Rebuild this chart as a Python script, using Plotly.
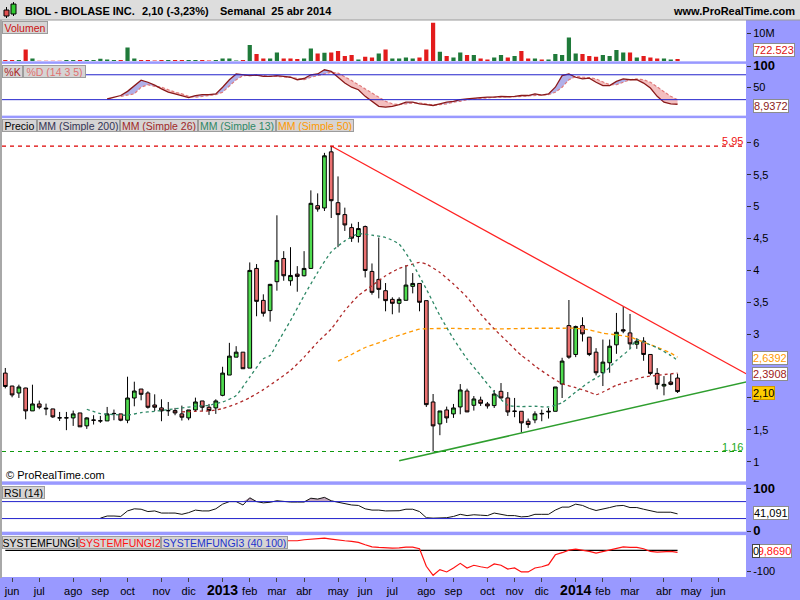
import plotly.graph_objects as go
from plotly.subplots import make_subplots

# ---------------- data (weekly bars, index 0 = week of 28 May 2012) ----------------
week_idx = list(range(100))
opens = [2.39, 2.187, 2.078, 2.156, 1.797, 1.906, 1.84, 1.828, 1.69, 1.69,
         1.687, 1.765, 1.562, 1.655, 1.643, 1.64, 1.758, 1.75, 1.651, 1.999,
         2.14, 2.078, 1.89, 1.844, 1.803, 1.802, 1.75, 1.687, 1.812, 1.953,
         1.854, 1.844, 2.041, 2.359, 2.64, 2.718, 2.468, 4.031, 3.53, 3.37,
         3.823, 4.187, 3.838, 3.942, 3.916, 4.031, 5.015, 4.979, 5.859, 5.062,
         4.875, 4.671, 4.531, 4.687, 3.984, 3.859, 3.682, 3.546, 3.484, 3.531,
         3.75, 3.796, 3.526, 1.937, 1.593, 1.812, 1.75, 1.859, 2.109, 1.885,
         1.968, 1.906, 1.88, 2.104, 2.0, 1.795, 1.791, 1.635, 1.656, 1.758,
         1.78, 1.791, 2.218, 3.135, 2.682, 3.135, 2.953, 2.718, 2.395, 2.552,
         2.833, 3.07, 3.02, 2.843, 2.89, 2.682, 2.385, 2.187, 2.25, 2.312]
highs = [2.47, 2.19, 2.208, 2.16, 2.208, 1.958, 1.911, 1.83, 1.781, 1.781,
         1.802, 1.765, 1.698, 1.729, 1.719, 1.859, 1.818, 1.75, 2.333, 2.255,
         2.14, 2.104, 2.057, 1.979, 1.937, 1.844, 1.88, 1.812, 2.005, 1.953,
         1.906, 1.979, 2.489, 2.864, 2.812, 2.718, 4.125, 4.099, 3.625, 3.79,
         4.864, 4.302, 4.364, 4.067, 4.302, 5.255, 5.208, 5.843, 5.95, 5.474,
         4.984, 4.734, 4.76, 4.703, 4.109, 4.515, 3.802, 3.578, 3.578, 4.083,
         3.958, 3.796, 3.526, 2.062, 1.796, 1.864, 1.906, 2.218, 2.145, 2.03,
         2.02, 1.937, 2.125, 2.234, 2.093, 2.0, 1.791, 1.677, 1.791, 1.817,
         1.843, 2.172, 2.63, 3.536, 3.135, 3.265, 2.953, 2.781, 2.916, 2.916,
         3.333, 3.437, 3.317, 2.937, 2.953, 2.682, 2.468, 2.343, 2.38, 2.38]
lows = [2.15, 2.01, 2.0, 1.666, 1.797, 1.823, 1.729, 1.687, 1.64, 1.495,
        1.562, 1.547, 1.515, 1.583, 1.609, 1.64, 1.651, 1.635, 1.604, 1.869,
        1.963, 1.833, 1.797, 1.635, 1.718, 1.729, 1.646, 1.651, 1.792, 1.792,
        1.734, 1.75, 2.026, 2.359, 2.64, 2.458, 2.468, 3.281, 3.276, 3.197,
        3.682, 3.838, 3.76, 3.666, 3.906, 4.031, 4.921, 4.932, 4.822, 4.364,
        4.619, 4.447, 4.437, 3.89, 3.619, 3.562, 3.359, 3.312, 3.338, 3.531,
        3.64, 3.359, 1.859, 1.16, 1.416, 1.609, 1.687, 1.744, 1.781, 1.802,
        1.875, 1.833, 1.843, 1.989, 1.718, 1.698, 1.458, 1.531, 1.604, 1.635,
        1.677, 1.791, 1.999, 2.614, 2.64, 2.885, 2.656, 2.354, 2.187, 2.395,
        2.692, 3.015, 2.77, 2.77, 2.583, 2.354, 2.135, 2.041, 2.198, 2.078]
closes = [2.18, 2.047, 2.172, 1.797, 1.906, 1.854, 1.83, 1.703, 1.687, 1.687,
          1.75, 1.547, 1.687, 1.65, 1.64, 1.75, 1.755, 1.651, 1.999, 2.109,
          2.057, 1.854, 1.854, 1.797, 1.8, 1.765, 1.698, 1.812, 1.937, 1.854,
          1.802, 1.953, 2.39, 2.656, 2.718, 2.458, 4.0, 3.515, 3.328, 3.781,
          4.156, 3.916, 3.921, 3.906, 4.031, 5.052, 4.963, 5.797, 5.093, 4.875,
          4.713, 4.505, 4.656, 3.999, 3.656, 3.703, 3.526, 3.484, 3.546, 3.77,
          3.796, 3.5, 1.895, 1.562, 1.796, 1.687, 1.843, 2.125, 1.781, 1.984,
          1.916, 1.875, 2.062, 2.0, 1.781, 1.79, 1.609, 1.583, 1.75, 1.752,
          1.79, 2.172, 2.578, 2.64, 3.119, 3.005, 2.682, 2.395, 2.562, 2.812,
          3.03, 3.05, 2.848, 2.89, 2.682, 2.385, 2.213, 2.213, 2.213, 2.10]

volume_m = [0.36, 0.36, 0.36, 4.2, 0.96, 0.15, 0.15, 0.15, 0.15, 0.36,
            0.36, 0.36, 0.36, 0.36, 0.84, 0.6, 0.36, 0.36, 4.93, 0.96,
            0.36, 0.36, 0.2, 0.36, 0.36, 0.36, 0.36, 0.36, 0.36, 0.36,
            0.2, 0.36, 0.96, 0.96, 0.2, 0.36, 5.78, 2.53, 0.96, 0.96,
            3.13, 0.96, 0.96, 0.72, 0.96, 4.57, 2.77, 3.0, 3.13, 3.61,
            1.81, 2.17, 0.6, 1.56, 1.32, 2.77, 4.21, 0.96, 0.96, 1.32,
            0.96, 1.32, 4.21, 13.84, 3.37, 1.81, 1.32, 3.13, 2.17, 2.17,
            0.96, 0.6, 1.32, 2.17, 1.32, 1.81, 3.61, 0.96, 0.96, 0.6,
            0.6, 2.53, 2.17, 8.54, 2.77, 2.53, 1.81, 1.56, 2.17, 1.81,
            3.97, 3.13, 3.13, 1.32, 1.81, 1.32, 0.96, 0.96, 0.6, 0.72]
volume_up = [0, 0, 1, 0, 1, 0, 0, 0, 0, 1,
             1, 0, 1, 1, 1, 1, 1, 0, 1, 1,
             0, 0, 0, 0, 1, 0, 0, 1, 1, 0,
             0, 1, 1, 1, 1, 0, 1, 0, 0, 1,
             1, 0, 0, 0, 1, 1, 0, 1, 0, 0,
             0, 0, 1, 0, 0, 1, 0, 1, 1, 1,
             1, 0, 0, 0, 1, 0, 1, 1, 0, 1,
             0, 0, 1, 1, 0, 1, 0, 0, 1, 0,
             1, 1, 1, 1, 1, 0, 0, 0, 1, 1,
             1, 1, 0, 1, 0, 0, 0, 1, 1, 0]

stoch_k_x = list(range(15, 100))
stoch_k = [21.6, 26, 30, 40, 54, 67, 62, 55, 46, 38,
           34, 30, 25, 30, 32, 32, 34, 50, 68, 82,
           80, 78, 79, 76, 76, 78, 76, 74, 68, 71,
           80, 82, 92, 88, 74, 60, 50, 44, 28, 16,
           4, 2, 4, 8, 14, 14, 10, 8, 6, 10,
           14, 16, 20, 22, 24, 25, 26, 26, 28, 27,
           28, 30, 30, 34, 31, 34, 50, 78, 82, 74,
           70, 72, 62, 54, 54, 64, 70, 68, 68, 60,
           48, 28, 14, 10, 8.94]
stoch_d_x = list(range(17, 100))
stoch_d = [28, 31, 34, 50, 56, 52, 50, 44, 38, 34,
           28, 26, 28, 30, 32, 38, 54, 68, 78, 79,
           79, 78, 76, 76, 75, 74, 71, 68, 74, 78,
           82, 86, 84, 76, 66, 56, 46, 36, 26, 16,
           10, 8, 10, 12, 12, 10, 7, 8, 10, 14,
           16, 20, 22, 23, 24, 26, 26, 26, 27, 28,
           29, 30, 32, 32, 38, 50, 68, 76, 74, 73,
           70, 63, 56, 56, 62, 68, 70, 68, 62, 50,
           38, 28, 20]

rsi_x = list(range(14, 100))
rsi = [31, 36, 36, 35, 48, 53, 52, 46.5, 48, 43,
       43, 43, 40, 44, 50, 48, 48, 53, 64, 70,
       70, 62, 79, 70, 67, 68.5, 72, 70, 69, 69,
       69, 78, 76, 80, 72, 68.5, 65, 62, 61, 53,
       50, 50, 48, 48, 48.5, 52, 52, 46.5, 32, 31,
       32, 32, 35, 40, 37, 39, 38, 37, 43, 40,
       37, 37, 34, 35, 40, 40, 40, 50, 57, 57,
       64, 61, 54, 49, 52, 56, 60, 61, 56, 56,
       52, 48, 45, 45, 45, 41.091]

fungi1_x = [0, 99]
fungi1 = [0, 0]
fungi2_x = list(range(41, 100))
fungi2 = [46, 46, 46, 51, 54, 55, 58.5, 54, 49, 46,
          43, 38, 27, 17, 14, 11, 11, 12, 16, 16,
          8, -76, -119, -92, -103, -84, -62, -84, -71, -78,
          -84, -65, -71, -89, -84, -103, -103, -84, -78, -68,
          -21, -11, 1.4, 6, 1, -5, -13, -5, 3, 11,
          17, 14, 14, 8, -5, -8, -5, -5, -9.869]

ma13_x = [12, 14, 16, 18, 20, 22, 24, 26, 28, 30, 32, 34, 36, 38, 39, 40, 42, 44, 46, 48,
          50, 52, 54, 56, 58, 60, 62, 64, 66, 68, 70, 72, 74, 76, 78, 80, 82, 84, 86, 88,
          90, 92, 93, 94, 96, 98, 99]
ma13 = [1.823, 1.755, 1.74, 1.729, 1.77, 1.79, 1.817, 1.844, 1.87, 1.885, 1.937, 2.04, 2.328,
        2.614, 2.666, 2.849, 3.213, 3.604, 3.968, 4.291, 4.463, 4.573, 4.552, 4.515, 4.411,
        4.099, 3.708, 3.291, 2.927, 2.614, 2.354, 2.093, 1.885, 1.865, 1.87, 1.859, 1.927,
        2.093, 2.25, 2.38, 2.588, 2.77, 2.916, 2.875, 2.786, 2.666, 2.588]
ma26_x = [26, 28, 30, 32, 34, 36, 38, 40, 42, 44, 46, 48, 50, 52, 54, 56, 58, 60, 61, 62,
          64, 66, 68, 70, 72, 74, 76, 77, 78, 80, 82, 84, 86, 87, 88, 90, 92, 94, 96, 99]
ma26 = [1.781, 1.791, 1.797, 1.833, 1.906, 2.005, 2.13, 2.276, 2.432, 2.64, 2.875, 3.083,
        3.369, 3.604, 3.76, 3.916, 4.031, 4.099, 4.125, 4.099, 3.968, 3.786, 3.578, 3.317,
        3.083, 2.875, 2.666, 2.59, 2.5, 2.354, 2.224, 2.161, 2.093, 2.051, 2.093, 2.198,
        2.265, 2.328, 2.354, 2.3908]
ma50_x = [49, 51, 53, 55, 57, 59, 61, 63, 66, 70, 74, 78, 82, 84, 86, 88, 90, 92, 94, 96, 98, 99]
ma50 = [2.578, 2.682, 2.791, 2.864, 2.948, 3.015, 3.078, 3.088, 3.09, 3.083, 3.085, 3.093,
        3.093, 3.093, 3.067, 3.015, 2.989, 2.953, 2.875, 2.796, 2.703, 2.6392]

red_trend_x = [48, 109.1]
red_trend_y = [5.95, 2.38]
green_trend_x = [58, 109.1]
green_trend_y = [1.015, 2.25]
resist_level = 5.95
support_level = 1.16

tick_pos = [1, 5, 10, 14, 18, 23, 27, 32, 36, 40, 44, 49, 53, 57, 62, 66, 71, 75, 79,
            84, 88, 92, 97, 101, 105]
tick_text = ["jun", "jul", "ago", "sep", "oct", "nov", "dic",
             "<span style='font-size:14px'><b>2013</b></span>", "feb", "mar", "abr", "may",
             "jun", "jul", "ago", "sep", "oct", "nov", "dic",
             "<span style='font-size:14px'><b>2014</b></span>", "feb", "mar", "abr", "may", "jun"]
price_ticks = [1, 1.5, 2, 3, 3.5, 4, 4.5, 5, 5.5, 6]
price_tick_text = ["1", "1,5", "2", "3", "3,5", "4", "4,5", "5", "5,5", "6"]

# ---------------- styling helpers ----------------
FONT = "Liberation Sans, Arial, sans-serif"
LAV = "#9999ff"
GREEN_C = "#4fdc4f"
RED_C = "#ea7171"
VOL_G = "#1f7a3a"
VOL_R = "#e31c1c"


def px(x):
    return (x - 2) / 744.0


def py(y):
    return (580 - y) / 560.0


fig = make_subplots(rows=5, cols=1, shared_xaxes=True, vertical_spacing=0.01)

# volume
fig.add_trace(go.Bar(x=week_idx, y=volume_m, width=0.62,
                     marker=dict(color=[VOL_G if u else VOL_R for u in volume_up], line=dict(width=0)),
                     hoverinfo="skip"), row=1, col=1)

# stochastic with fills
k_on_d = stoch_k[2:]
upper = [max(a, b) for a, b in zip(k_on_d, stoch_d)]
lower = [min(a, b) for a, b in zip(k_on_d, stoch_d)]
fig.add_trace(go.Scatter(x=stoch_d_x, y=stoch_d, mode="lines", line=dict(width=0), hoverinfo="skip"), row=2, col=1)
fig.add_trace(go.Scatter(x=stoch_d_x, y=upper, mode="lines", line=dict(width=0), fill="tonexty",
                         fillcolor="rgba(150,150,225,0.75)", hoverinfo="skip"), row=2, col=1)
fig.add_trace(go.Scatter(x=stoch_d_x, y=stoch_d, mode="lines", line=dict(width=0), hoverinfo="skip"), row=2, col=1)
fig.add_trace(go.Scatter(x=stoch_d_x, y=lower, mode="lines", line=dict(width=0), fill="tonexty",
                         fillcolor="rgba(240,170,170,0.75)", hoverinfo="skip"), row=2, col=1)
fig.add_trace(go.Scatter(x=stoch_d_x, y=stoch_d, mode="lines",
                         line=dict(color="#e07a7a", width=1.2, dash="3px,2px"), hoverinfo="skip"), row=2, col=1)
fig.add_trace(go.Scatter(x=stoch_k_x, y=stoch_k, mode="lines",
                         line=dict(color="#8b1a1a", width=1.3), hoverinfo="skip"), row=2, col=1)

# price panel
fig.add_trace(go.Scatter(x=ma50_x, y=ma50, mode="lines", line=dict(color="#ff9900", width=1.3, dash="4px,3px",
                         shape="spline", smoothing=0.6), hoverinfo="skip"), row=3, col=1)
fig.add_trace(go.Scatter(x=ma26_x, y=ma26, mode="lines", line=dict(color="#b02a2a", width=1.3, dash="3px,3px",
                         shape="spline", smoothing=0.6), hoverinfo="skip"), row=3, col=1)
fig.add_trace(go.Scatter(x=ma13_x, y=ma13, mode="lines", line=dict(color="#2e8866", width=1.3, dash="3px,3px",
                         shape="spline", smoothing=0.6), hoverinfo="skip"), row=3, col=1)
fig.add_trace(go.Scatter(x=red_trend_x, y=red_trend_y, mode="lines", line=dict(color="#ff2222", width=1.3),
                         hoverinfo="skip"), row=3, col=1)
fig.add_trace(go.Scatter(x=green_trend_x, y=green_trend_y, mode="lines", line=dict(color="#2e9e2e", width=1.5),
                         hoverinfo="skip"), row=3, col=1)
fig.add_trace(go.Candlestick(x=week_idx, open=opens, high=highs, low=lows, close=closes,
                             increasing=dict(line=dict(color="#000000", width=1), fillcolor=GREEN_C),
                             decreasing=dict(line=dict(color="#000000", width=1), fillcolor=RED_C),
                             whiskerwidth=0, hoverinfo="skip"), row=3, col=1)

# RSI
fig.add_trace(go.Scatter(x=rsi_x, y=[70] * len(rsi_x), mode="lines", line=dict(width=0), hoverinfo="skip"),
              row=4, col=1)
fig.add_trace(go.Scatter(x=rsi_x, y=[max(v, 70) for v in rsi], mode="lines", line=dict(width=0),
                         fill="tonexty", fillcolor="rgba(170,130,160,0.7)", hoverinfo="skip"), row=4, col=1)
fig.add_trace(go.Scatter(x=rsi_x, y=rsi, mode="lines", line=dict(color="#111111", width=1), hoverinfo="skip"),
              row=4, col=1)

# SYSTEMFUNGI
fig.add_trace(go.Scatter(x=fungi1_x, y=fungi1, mode="lines", line=dict(color="#000000", width=1.2),
                         hoverinfo="skip"), row=5, col=1)
fig.add_trace(go.Scatter(x=fungi2_x, y=fungi2, mode="lines", line=dict(color="#ff1111", width=1.2),
                         hoverinfo="skip"), row=5, col=1)

# ---------------- axes ----------------
domains = [[0.9259, 1.0], [0.8286, 0.9214], [0.1732, 0.8241], [0.0830, 0.1670], [0.0018, 0.0768]]
ranges = [[-0.11, 14.87], [-18.5, 106.3], [0.6922, 6.3875], [-0.94, 109.6], [-127.1, 72.86]]
tvals = [[10], [50, 100], price_ticks, [0, 100], [-100]]
ttext = [["10M"], ["50", "<span style='font-size:13px'><b>100</b></span>"],
         price_tick_text,
         ["<span style='font-size:13px'><b>0</b></span>", "<span style='font-size:13px'><b>100</b></span>"],
         ["-100"]]
for r in range(5):
    fig.update_yaxes(domain=domains[r], range=ranges[r], side="right", tickvals=tvals[r], ticktext=ttext[r],
                     ticks="outside", ticklen=4, tickcolor="#333333", showgrid=False, zeroline=False,
                     showline=False, tickfont=dict(family=FONT, size=11, color="#000000"),
                     fixedrange=True, row=r + 1, col=1)
    fig.update_xaxes(range=[-0.486, 109.08], showgrid=False, zeroline=False, showline=False,
                     rangeslider=dict(visible=False), showticklabels=(r == 4),
                     ticks=("outside" if r == 4 else ""), ticklen=4, tickcolor="#444444",
                     tickvals=tick_pos, ticktext=tick_text, fixedrange=True,
                     tickfont=dict(family=FONT, size=11, color="#000000"), row=r + 1, col=1)

# ---------------- shapes ----------------
shapes = [
    dict(type="rect", xref="paper", yref="paper", x0=px(0), x1=px(800), y0=py(20), y1=py(0),
         fillcolor="#dddddd", line=dict(width=0), layer="above"),
    dict(type="line", xref="paper", yref="paper", x0=px(0), x1=px(800), y0=py(20), y1=py(20),
         line=dict(color="#9a9a9a", width=1), layer="above"),
    dict(type="rect", xref="paper", yref="paper", x0=px(0), x1=px(2), y0=py(580), y1=py(20),
         fillcolor="#a8a8a8", line=dict(width=0), layer="above"),
    # stochastic bands
    dict(type="line", xref="paper", yref="y2", x0=0, x1=1, y0=80, y1=80, line=dict(color="#2222cc", width=1)),
    dict(type="line", xref="paper", yref="y2", x0=0, x1=1, y0=20, y1=20, line=dict(color="#2222cc", width=1)),
    # RSI bands
    dict(type="line", xref="paper", yref="y4", x0=0, x1=1, y0=70, y1=70, line=dict(color="#2222cc", width=1)),
    dict(type="line", xref="paper", yref="y4", x0=0, x1=1, y0=30, y1=30, line=dict(color="#2222cc", width=1)),
    # price levels
    dict(type="line", xref="paper", yref="y3", x0=0, x1=1, y0=resist_level, y1=resist_level,
         line=dict(color="#dd0000", width=1.2, dash="4px,4px")),
    dict(type="line", xref="paper", yref="y3", x0=0, x1=1, y0=support_level, y1=support_level,
         line=dict(color="#119911", width=1.2, dash="4px,4px")),
    # tiny candle icon in title bar
    dict(type="line", xref="paper", yref="paper", x0=px(6.5), x1=px(6.5), y0=py(18), y1=py(7),
         line=dict(color="#000000", width=1), layer="above"),
    dict(type="rect", xref="paper", yref="paper", x0=px(4), x1=px(9), y0=py(16), y1=py(10),
         fillcolor="#e05050", line=dict(color="#000000", width=1), layer="above"),
    dict(type="line", xref="paper", yref="paper", x0=px(13.5), x1=px(13.5), y0=py(16), y1=py(2),
         line=dict(color="#000000", width=1), layer="above"),
    dict(type="rect", xref="paper", yref="paper", x0=px(11), x1=px(16), y0=py(14), y1=py(4),
         fillcolor="#33cc33", line=dict(color="#000000", width=1), layer="above"),
]

# ---------------- annotations ----------------
ann = []


def text(x, y, s, color="#000000", size=11, anchor="left", bold=False, **kw):
    ann.append(dict(xref="paper", yref="paper", x=px(x), y=py(y), text=("<b>%s</b>" % s) if bold else s,
                    showarrow=False, xanchor=anchor, yanchor="middle",
                    font=dict(family=FONT, size=size, color=color), **kw))


def tab(x, y, w, s, color):
    ann.append(dict(xref="paper", yref="paper", x=px(x), y=py(y), text=s, showarrow=False,
                    xanchor="left", yanchor="top", width=w, height=11, align="center",
                    bgcolor="#d6d4d4", bordercolor="#9c9c9c", borderwidth=1, borderpad=0,
                    font=dict(family=FONT, size=10.5, color=color)))


def valbox(x, y, s, color, bg="#ffffff", border="#8c8c8c"):
    ann.append(dict(xref="paper", yref="paper", x=px(x), y=py(y), text=s, showarrow=False,
                    xanchor="left", yanchor="middle", bgcolor=bg, bordercolor=border, borderwidth=1,
                    borderpad=0, font=dict(family=FONT, size=11, color=color)))


# title bar
text(23, 10.5, "BIOL - BIOLASE INC.", size=11, bold=True)
text(140, 10.5, "2,10 (-3,23%)", size=11, bold=True)
text(218, 10.5, "Semanal  25 abr 2014", size=11, bold=True)
text(797, 10.5, "www.ProRealTime.com", size=11, bold=True, anchor="right")

# panel tabs
tab(2, 21, 44, "Volumen", "#cc1111")
tab(2, 65, 19, "%K", "#aa2222")
tab(23, 65, 61, "%D (14 3 5)", "#e07070")
tab(2, 119, 33, "Precio", "#000000")
tab(37, 119, 81, "MM (Simple 200)", "#333355")
tab(120, 119, 76, "MM (Simple 26)", "#a02828")
tab(198, 119, 76, "MM (Simple 13)", "#2e8866")
tab(276, 119, 76, "MM (Simple 50)", "#ff9900")
tab(2, 488, 41, "RSI (14)", "#000000")
tab(2, 538, 75, "SYSTEMFUNGI", "#000000")
tab(79, 538, 80, "SYSTEMFUNGI2", "#ff1111")
tab(161, 538, 125, "SYSTEMFUNGI3 (40 100)", "#2233cc")

text(4, 477, "© ProRealTime.com", size=11)
text(745, 141.5, "5,95", color="#ee1111", size=11, anchor="right")
text(745, 449, "1,16", color="#22aa22", size=11, anchor="right")

# right value boxes
valbox(753, 50, "722.523", "#dd1111")
valbox(753, 106, "8,9372", "#8b1a1a")
valbox(752, 359, "2,6392", "#ff9900")
valbox(752, 375.5, "2,3908", "#a02020")
valbox(752, 394.5, "2,10", "#000000", bg="#ffcc00", border="#d09a00")
valbox(753, 515, "41,091", "#000000")
valbox(753, 552.5, "-9,8690", "#ff1111")
valbox(752, 552.5, "0", "#000000", border="#444444")

fig.update_layout(width=800, height=600, margin=dict(l=2, r=54, t=20, b=20),
                  paper_bgcolor=LAV, plot_bgcolor="#ffffff", showlegend=False,
                  shapes=shapes, annotations=ann, bargap=0.3, boxgap=0.22,
                  font=dict(family=FONT, size=11, color="#000000"))

fig.write_html("out.html", config={"displayModeBar": False, "staticPlot": True},
               post_script="document.body.style.margin='0px';document.body.style.overflow='hidden';")
